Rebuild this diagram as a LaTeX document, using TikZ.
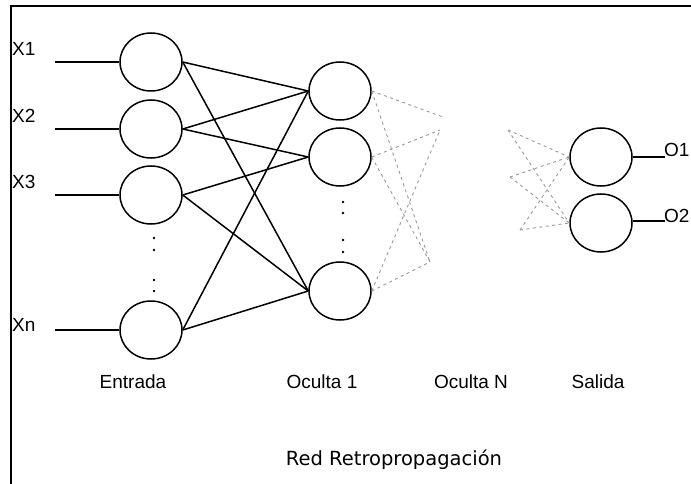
\documentclass[tikz,border=0pt]{standalone}
\usepackage{fontspec}
\setmainfont{Liberation Sans}
\newfontfamily\titlefont{DejaVu Sans}
\usetikzlibrary{shapes.geometric}

\tikzset{
  neuron/.style={draw,ellipse,line width=1.5pt,inner sep=0pt,minimum width=62pt,minimum height=58pt},
  lbl/.style={font=\fontsize{19}{21}\selectfont,inner sep=0pt},
  link/.style={line width=1.5pt},
  faint/.style={draw=black!40,line width=0.9pt,dash pattern=on 3pt off 3.5pt}
}

\begin{document}
\begin{tikzpicture}[x=1pt,y=-1pt]
 \useasboundingbox (0,0) rectangle (691,484);
 \draw[line width=2.5pt] (11,484) -- (11,6) -- (691,6);
 % entrada
 \node[neuron] (e1) at (151,62) {};
 \node[neuron] (e2) at (151,129) {};
 \node[neuron] (e3) at (151,195) {};
 \node[neuron] (en) at (151,330) {};
 % oculta 1
 \node[neuron] (h1) at (340,91) {};
 \node[neuron] (h2) at (340,157) {};
 \node[neuron] (hn) at (340,291) {};
 % salida
 \node[neuron] (s1) at (601,157) {};
 \node[neuron] (s2) at (601,223) {};
 % entradas
 \coordinate (x1) at (55,62);
 \coordinate (x2) at (55,129);
 \coordinate (x3) at (55,195);
 \coordinate (xn) at (55,330);
 \node[lbl,anchor=west] (lx1) at (12,49) {X1};
 \node[lbl,anchor=west] (lx2) at (12,116) {X2};
 \node[lbl,anchor=west] (lx3) at (12,182) {X3};
 \node[lbl,anchor=west] (lxn) at (12,325) {Xn};
 \draw[link] (x1) -- (e1.west);
 \draw[link] (x2) -- (e2.west);
 \draw[link] (x3) -- (e3.west);
 \draw[link] (xn) -- (en.west);
 % salidas
 \coordinate (o1) at (665,157);
 \coordinate (o2) at (665,221);
 \draw[link] (s1.east) -- (o1);
 \draw[link] (s2.east |- o2) -- (o2);
 \node[lbl,anchor=west] (lo1) at (664,150) {O1};
 \node[lbl,anchor=west] (lo2) at (664,216) {O2};
 % pesos
 \draw[link] (e1.east) -- (h1.west);
 \draw[link] (e1.east) -- (hn.west);
 \draw[link] (e2.east) -- (h1.west);
 \draw[link] (e2.east) -- (h2.west);
 \draw[link] (e3.east) -- (h2.west);
 \draw[link] (e3.east) -- (hn.west);
 \draw[link] (en.east) -- (h1.west);
 \draw[link] (en.east) -- (hn.west);
 % puntos
 \foreach \y in {238,250,280,291} \fill (154,\y) circle (1.4pt);
 \foreach \y in {202,213,240,252} \fill (343,\y) circle (1.4pt);
 % capas ocultas intermedias
 \coordinate (p1) at (443,117);
 \coordinate (p2) at (440,130);
 \coordinate (p3) at (430,262);
 \coordinate (q1) at (508,130);
 \coordinate (q2) at (510,177);
 \coordinate (q3) at (520,230);
 \draw[faint] (h1.east) -- (p1);
 \draw[faint] (h1.east) -- (p3);
 \draw[faint] (h2.east) -- (p2);
 \draw[faint] (h2.east) -- (p3);
 \draw[faint] (hn.east) -- (p2);
 \draw[faint] (hn.east) -- (p3);
 \draw[faint] (q1) -- (s1.west);
 \draw[faint] (q1) -- (s2.west);
 \draw[faint] (q2) -- (s1.west);
 \draw[faint] (q2) -- (s2.west);
 \draw[faint] (q3) -- (s1.west);
 \draw[faint] (q3) -- (s2.west);
 % nombres de capas
 \node[lbl] (entrada) at (133,382) {Entrada};
 \node[lbl] (oculta1) at (322,382) {Oculta 1};
 \node[lbl] (ocultan) at (471,382) {Oculta N};
 \node[lbl] (salida) at (598,382) {Salida};
 \node[font=\titlefont\fontsize{19.5}{21}\selectfont,inner sep=0pt] (titulo) at (394,460) {Red Retropropagación};
\end{tikzpicture}
\end{document}
